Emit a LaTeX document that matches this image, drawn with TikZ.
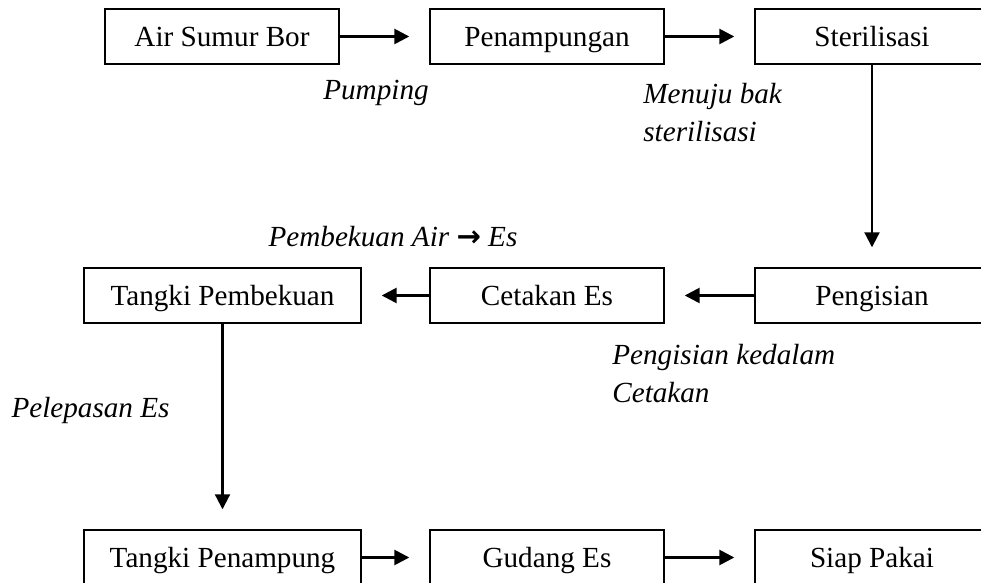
\documentclass[tikz,border=0pt]{standalone}
\usepackage{fontspec}
\setmainfont{Liberation Serif}
\newfontfamily\arrowfont{DejaVu Sans}
\usetikzlibrary{arrows.meta,positioning}

\newcommand{\diagfont}{\fontsize{16.6}{22}\selectfont}

\tikzset{
  box/.style={draw,line width=0.8pt,minimum width=4.68cm,minimum height=1.1cm,inner sep=0pt,
    font=\diagfont,text height=12pt,text depth=1pt},
  widebox/.style={box,minimum width=5.54cm},
  flow/.style={line width=1.5pt,-{Triangle[length=0.3cm,width=0.3cm]},shorten >=0.4cm},
  down/.style={flow,line width=1.2pt},
  note/.style={font=\diagfont\itshape,inner sep=0pt,align=left}
}

\begin{document}
\begin{tikzpicture}
  \useasboundingbox (0,0) rectangle (19.62,11.66);

  % First row
  \node[box] (bor) at (4.44,10.93) {Air Sumur Bor};
  \node[box] (tampung) at (10.94,10.93) {Penampungan};
  \node[box] (steril) at (17.44,10.93) {Sterilisasi};

  % Second row
  \node[widebox] (beku) at (4.45,5.75) {Tangki Pembekuan};
  \node[box] (cetak) at (10.94,5.75) {Cetakan Es};
  \node[box] (isi) at (17.44,5.75) {Pengisian};

  % Third row
  \node[widebox] (tangki) at (4.45,0.51) {Tangki Penampung};
  \node[box] (gudang) at (10.94,0.51) {Gudang Es};
  \node[box] (siap) at (17.44,0.51) {Siap Pakai};

  % Connectors
  \draw[flow] (bor) -- (tampung);
  \draw[flow] (tampung) -- (steril);
  \draw[down] (steril) -- (isi);
  \draw[flow] (isi) -- (cetak);
  \draw[flow] (cetak) -- (beku);
  \draw[down] (beku) -- (tangki);
  \draw[flow] (tangki) -- (gudang);
  \draw[flow] (gudang) -- (siap);

  % Step labels
  \node[note] (pump) at (7.52,9.8) {Pumping};
  \node[note,anchor=west] (menuju) at (12.86,9.41) {Menuju bak\\sterilisasi};
  \node[note] (pembekuan) at (7.86,6.92) {Pembekuan Air {\arrowfont\bfseries\upshape →} Es};
  \node[note,anchor=west] (pengisian) at (12.24,4.19) {Pengisian kedalam\\Cetakan};
  \node[note] (lepas) at (1.81,3.46) {Pelepasan Es};
\end{tikzpicture}
\end{document}
